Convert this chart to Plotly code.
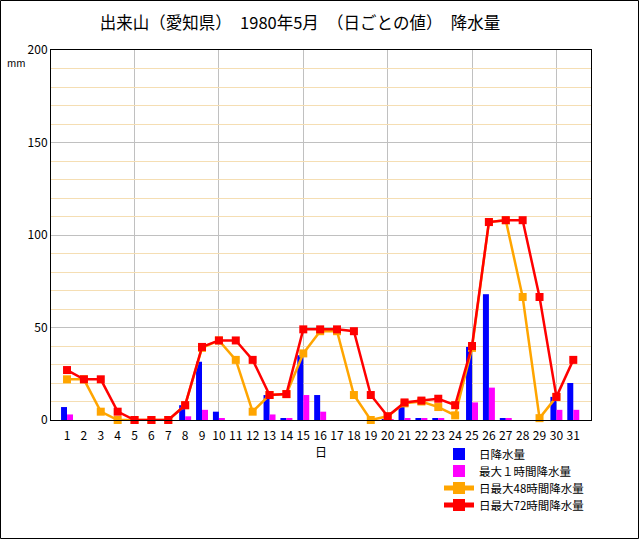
import plotly.graph_objects as go

days = list(range(1, 32))
day_labels = [str(d) for d in days]

daily_total = [7, 0, 0, 0, 0, 0, 0, 8, 31.5, 4.5, 0, 0, 13.5, 1, 35, 13.5,
               0, 0, 0, 0.5, 7, 1, 1, 0, 39.5, 68, 1, 0, 0, 12.5, 20]
max_1h = [3, 0, 0, 0, 0, 0, 0, 2, 5.5, 1, 0, 0, 3, 1, 13.5, 4.5,
          0, 0, 0, 0.5, 1, 1, 1, 0, 9.5, 17.5, 1, 0, 0, 5.5, 5.5]
max_48h = [22, 22, 4.5, 0, 0, 0, 0, 8, 39, 43, 32.5, 4.5, 13.5, 14, 36, 48,
           48, 13.5, 0, 2, 9, 10, 7, 2.5, 39, 107, 108, 66.5, 1, 12.5, None]
max_72h = [27, 22, 22, 4.5, 0, 0, 0, 8, 39.5, 43, 43, 32.5, 13.5, 14, 49, 49,
           49, 48, 13.5, 2, 9.5, 10.5, 11.5, 8, 40, 107, 108, 108, 66.5, 12.5, 32.5]

series_names = ["日降水量", "最大１時間降水量", "日最大48時間降水量", "日最大72時間降水量"]

FONT = "Noto Sans CJK JP"

fig = go.Figure()
fig.add_trace(go.Bar(x=days, y=daily_total, name=series_names[0], legend="legend",
                     marker=dict(color="#0000FF", line=dict(width=0))))
fig.add_trace(go.Bar(x=days, y=max_1h, name=series_names[1], legend="legend2",
                     marker=dict(color="#FF00FF", line=dict(width=0))))
fig.add_trace(go.Scatter(x=days, y=max_48h, name=series_names[2], mode="lines+markers",
                         legend="legend3",
                         line=dict(color="#FFA500", width=2.5),
                         marker=dict(symbol="square", size=8, color="#FFA500"),
                         cliponaxis=False))
fig.add_trace(go.Scatter(x=days, y=max_72h, name=series_names[3], mode="lines+markers",
                         legend="legend4",
                         line=dict(color="#FF0000", width=2.5),
                         marker=dict(symbol="square", size=8, color="#FF0000"),
                         cliponaxis=False))

W, H = 640, 540
ml, mr, mt, mb = 51, 49, 50, 120
pw, ph = W - ml - mr, H - mt - mb


def legend_at(yc):
    return dict(x=(439 - ml) / pw, y=-(yc - (mt + ph)) / ph, xanchor="left",
                yanchor="middle", bgcolor="rgba(0,0,0,0)",
                font=dict(family=FONT, size=11.5), itemsizing="constant")


fig.update_layout(
    width=W, height=H,
    margin=dict(l=ml, r=mr, t=mt, b=mb, pad=0),
    paper_bgcolor="white", plot_bgcolor="white",
    barmode="group", bargap=0.29, bargroupgap=0,
    font=dict(family=FONT, size=12, color="black"),
    title=dict(text="出来山（愛知県）　1980年5月　（日ごとの値）　降水量",
               x=300 / W, xanchor="center", xref="container",
               y=1 - 23 / H, yanchor="middle", yref="container",
               font=dict(family=FONT, size=16.5, color="black")),
    xaxis=dict(range=[0.05, 32.05], tickmode="array", tickvals=days, ticktext=day_labels,
               showgrid=False, zeroline=False, showline=True, linecolor="black",
               linewidth=1, mirror=True, ticks="", tickfont=dict(size=12),
               ticklabelstandoff=5,
               title=dict(text="日", font=dict(size=12), standoff=6),
               minor=dict(tick0=0, dtick=5, showgrid=True, gridcolor="#C0C0C0",
                          gridwidth=1, ticks="")),
    yaxis=dict(range=[0, 200], tick0=0, dtick=50, showgrid=True, gridcolor="#C0C0C0",
               gridwidth=1, zeroline=False, showline=True, linecolor="black",
               linewidth=1, mirror=True, ticks="", tickfont=dict(size=12),
               minor=dict(tick0=0, dtick=10, showgrid=True, gridcolor="#F5DEB3",
                          gridwidth=1, ticks="")),
    legend=legend_at(454),
    legend2=legend_at(471),
    legend3=legend_at(488),
    legend4=legend_at(505),
    showlegend=True,
)

fig.add_annotation(text="mm", xref="paper", yref="paper",
                   x=-(ml - 16) / pw, y=1 - (62 - mt) / ph,
                   showarrow=False, font=dict(family=FONT, size=10),
                   xanchor="center", yanchor="middle")

fig.add_shape(type="rect", xref="paper", yref="paper",
              x0=-(ml - 0.5) / pw, x1=(W - ml - 1.5) / pw,
              y0=-(H - mt - ph - 1.5) / ph, y1=1 + (mt - 0.5) / ph,
              line=dict(color="black", width=1), fillcolor="rgba(0,0,0,0)", layer="above")

fig.write_html("out.html")
